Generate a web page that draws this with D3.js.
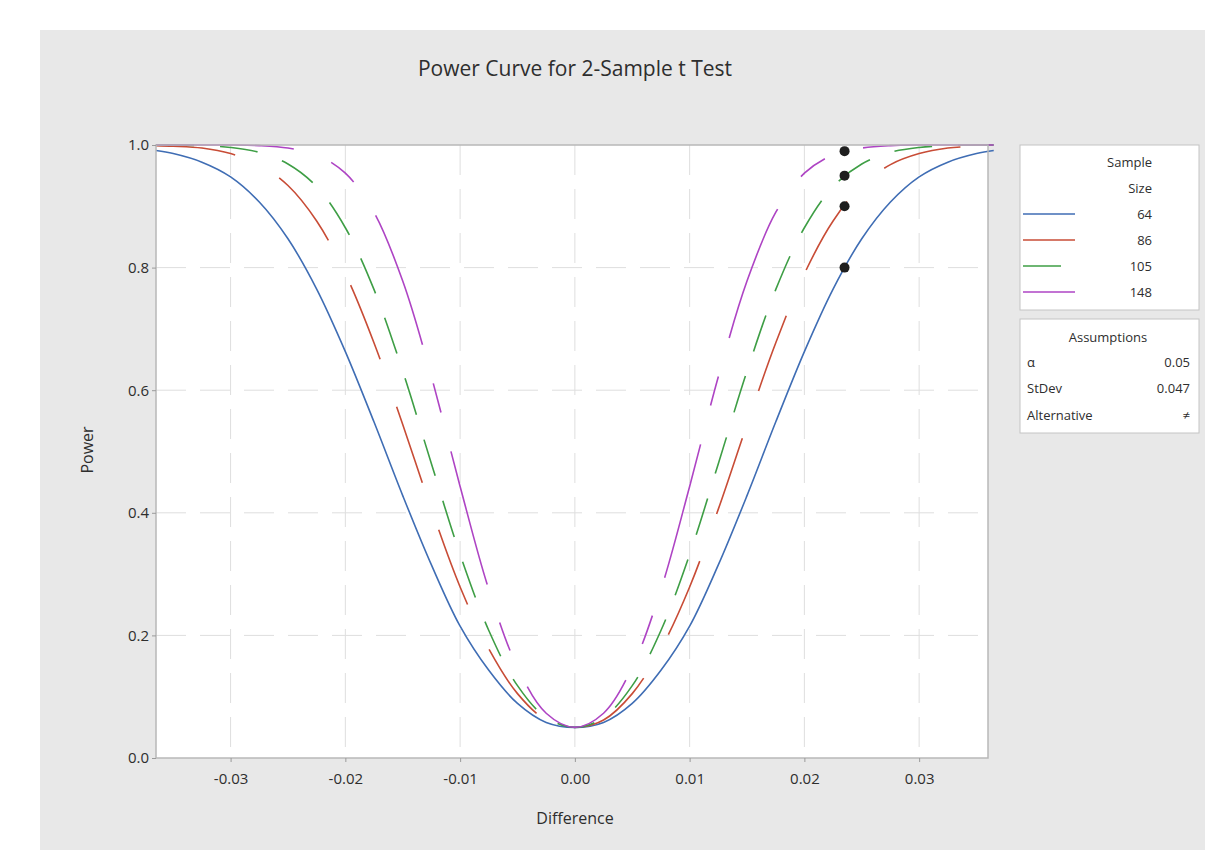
<!DOCTYPE html>
<html>
<head>
<meta charset="utf-8">
<script src="https://cdn.jsdelivr.net/npm/d3@7"></script>
<style>
  body { margin: 0; background: #ffffff; }
  text { font-family: "Open Sans", "Noto Sans", sans-serif; fill: #2e2e2e; }
</style>
</head>
<body>
<svg id="chart" width="1205" height="850"></svg>
<script>
// differences (one side, the power curve is symmetric about 0)
const differences = [0, 0.0025, 0.005, 0.0075, 0.01, 0.0125, 0.015, 0.0175, 0.02, 0.0225, 0.025, 0.0275, 0.03, 0.0325, 0.035, 0.0365];

// power for each sample size
const sampleSizes = ['64', '86', '105', '148'];
const power64  = [0.050, 0.058, 0.089, 0.143, 0.215, 0.315, 0.428, 0.548, 0.663, 0.765, 0.847, 0.907, 0.948, 0.972, 0.986, 0.991];
const power86  = [0.050, 0.062, 0.105, 0.178, 0.279, 0.406, 0.544, 0.677, 0.790, 0.876, 0.934, 0.968, 0.986, 0.995, 0.998, 0.999];
const power105 = [0.050, 0.066, 0.118, 0.208, 0.332, 0.480, 0.631, 0.764, 0.865, 0.932, 0.969, 0.988, 0.996, 0.999, 1.000, 1.000];
const power148 = [0.050, 0.073, 0.148, 0.275, 0.443, 0.622, 0.778, 0.890, 0.954, 0.984, 0.995, 0.999, 1.000, 1.000, 1.000, 1.000];

// design points (target difference, achieved power)
const targetDiff = 0.0235;
const targetPower = [0.80, 0.90, 0.95, 0.99];

const xTicks = [-0.03, -0.02, -0.01, 0, 0.01, 0.02, 0.03];
const yTicks = [0, 0.2, 0.4, 0.6, 0.8, 1.0];

const assumptionLabels = ['\u03b1', 'StDev', 'Alternative'];
const assumptionValues = ['0.05', '0.047', '\u2260'];

const colors = ['#3f6db4', '#c84c36', '#3e9e45', '#ae44c4'];
const dashes = [null, '80,50', '38,26', '138,40,30,40'];

const svg = d3.select('#chart');

// grey panel
svg.append('rect')
    .attr('x', 40).attr('y', 30)
    .attr('width', 1165).attr('height', 820)
    .attr('fill', '#e8e8e8');

const plot = {left: 156, right: 988, top: 145, bottom: 758};

const x = d3.scaleLinear()
    .domain([-0.0365, 0.036])
    .range([plot.left, plot.right]);

const y = d3.scaleLinear()
    .domain([0, 1])
    .range([plot.bottom, plot.top]);

svg.append('rect')
    .attr('x', plot.left).attr('y', plot.top)
    .attr('width', plot.right - plot.left)
    .attr('height', plot.bottom - plot.top)
    .attr('fill', '#ffffff');

// gridlines
svg.append('g')
    .selectAll('line')
    .data(xTicks)
    .join('line')
    .attr('x1', d => x(d)).attr('x2', d => x(d))
    .attr('y1', plot.top).attr('y2', plot.bottom)
    .attr('stroke', '#dedede')
    .attr('stroke-dasharray', '30,14');

svg.append('g')
    .selectAll('line')
    .data(yTicks.filter(d => d > 0 && d < 1))
    .join('line')
    .attr('x1', plot.left).attr('x2', plot.right)
    .attr('y1', d => y(d)).attr('y2', d => y(d))
    .attr('stroke', '#dedede')
    .attr('stroke-dasharray', '30,14');

// curves
const allPower = [power64, power86, power105, power148];
const series = sampleSizes.map((n, i) => {
    const vals = allPower[i];
    const left = differences.slice(1).map((d, j) => ({x: -d, y: vals[j + 1]})).reverse();
    const right = differences.map((d, j) => ({x: d, y: vals[j]}));
    return {n: n, color: colors[i], dash: dashes[i], points: left.concat(right)};
});

const line = d3.line()
    .x(d => x(d.x))
    .y(d => y(d.y))
    .curve(d3.curveCatmullRom);

svg.append('g')
    .selectAll('path')
    .data(series)
    .join('path')
    .attr('d', d => line(d.points))
    .attr('fill', 'none')
    .attr('stroke', d => d.color)
    .attr('stroke-width', 1.6)
    .attr('stroke-dasharray', d => d.dash);

// plot frame
svg.append('rect')
    .attr('x', plot.left).attr('y', plot.top)
    .attr('width', plot.right - plot.left)
    .attr('height', plot.bottom - plot.top)
    .attr('fill', 'none')
    .attr('stroke', '#b8b8b8')
    .attr('stroke-width', 1.5);

// design points
svg.append('g')
    .selectAll('circle')
    .data(targetPower)
    .join('circle')
    .attr('cx', x(targetDiff))
    .attr('cy', d => y(d))
    .attr('r', 5)
    .attr('fill', '#1e1e1e');

// axes
const xAxis = d3.axisBottom(x)
    .tickValues(xTicks)
    .tickSize(4)
    .tickFormat(d => d3.format('.2f')(d).replace('\u2212', '-'));

const yAxis = d3.axisLeft(y)
    .tickValues(yTicks)
    .tickSize(4)
    .tickFormat(d3.format('.1f'));

const gx = svg.append('g')
    .attr('transform', `translate(0,${plot.bottom})`)
    .call(xAxis);
const gy = svg.append('g')
    .attr('transform', `translate(${plot.left},0)`)
    .call(yAxis);

[gx, gy].forEach(g => {
    g.select('.domain').remove();
    g.selectAll('.tick line').attr('stroke', '#9a9a9a');
    g.selectAll('.tick text')
        .attr('font-size', 15)
        .attr('fill', '#2e2e2e');
});
gx.selectAll('.tick text').attr('dy', '1.25em');
gy.selectAll('.tick text').attr('x', -7);

// titles
svg.append('text')
    .attr('x', 575).attr('y', 76)
    .attr('text-anchor', 'middle')
    .attr('font-size', 21)
    .text('Power Curve for 2-Sample t Test');

svg.append('text')
    .attr('x', 575).attr('y', 824)
    .attr('text-anchor', 'middle')
    .attr('font-size', 16)
    .text('Difference');

svg.append('text')
    .attr('transform', 'translate(93,450) rotate(-90)')
    .attr('text-anchor', 'middle')
    .attr('font-size', 16)
    .text('Power');

// legend: sample size
const lg = svg.append('g');
lg.append('rect')
    .attr('x', 1020).attr('y', 145)
    .attr('width', 179).attr('height', 165)
    .attr('fill', '#ffffff')
    .attr('stroke', '#c4c4c4');

lg.append('text')
    .attr('x', 1152).attr('y', 162)
    .attr('dy', '0.35em')
    .attr('text-anchor', 'end')
    .attr('font-size', 13)
    .text('Sample');
lg.append('text')
    .attr('x', 1152).attr('y', 188)
    .attr('dy', '0.35em')
    .attr('text-anchor', 'end')
    .attr('font-size', 13)
    .text('Size');

const rowY = d3.scalePoint()
    .domain(sampleSizes)
    .range([214, 292]);

const rows = lg.selectAll('.row')
    .data(series)
    .join('g')
    .attr('class', 'row')
    .attr('transform', d => `translate(0,${rowY(d.n)})`);

rows.append('line')
    .attr('x1', 1023).attr('x2', 1075)
    .attr('stroke', d => d.color)
    .attr('stroke-width', 1.6)
    .attr('stroke-dasharray', d => d.dash);

rows.append('text')
    .attr('x', 1152)
    .attr('dy', '0.35em')
    .attr('text-anchor', 'end')
    .attr('font-size', 13)
    .text(d => d.n);

// legend: assumptions
const ag = svg.append('g');
ag.append('rect')
    .attr('x', 1020).attr('y', 319)
    .attr('width', 179).attr('height', 114)
    .attr('fill', '#ffffff')
    .attr('stroke', '#c4c4c4');

ag.append('text')
    .attr('x', 1108).attr('y', 337)
    .attr('dy', '0.35em')
    .attr('text-anchor', 'middle')
    .attr('font-size', 13)
    .text('Assumptions');

const aRowY = d3.scalePoint()
    .domain(assumptionLabels)
    .range([362, 415]);

ag.selectAll('.alabel')
    .data(assumptionLabels)
    .join('text')
    .attr('class', 'alabel')
    .attr('x', 1027)
    .attr('y', d => aRowY(d))
    .attr('dy', '0.35em')
    .attr('font-size', 13)
    .text(d => d);

ag.selectAll('.avalue')
    .data(assumptionValues)
    .join('text')
    .attr('class', 'avalue')
    .attr('x', 1190)
    .attr('y', (d, i) => aRowY(assumptionLabels[i]))
    .attr('dy', '0.35em')
    .attr('text-anchor', 'end')
    .attr('font-size', 13)
    .text(d => d);
</script>
</body>
</html>
